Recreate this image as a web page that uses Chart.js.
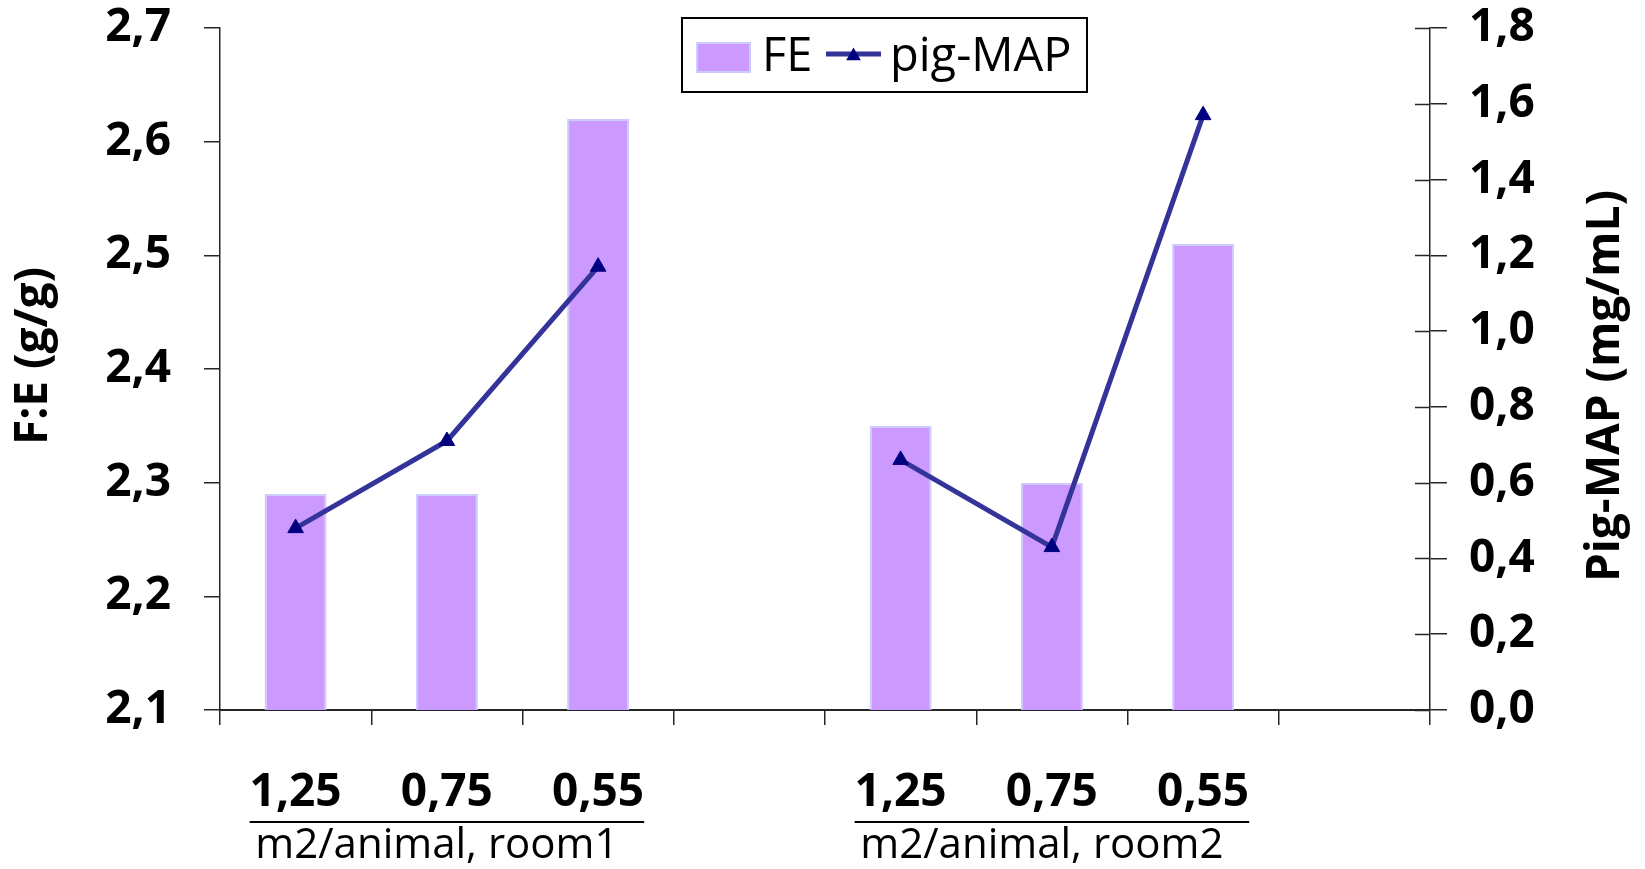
<!DOCTYPE html>
<html>
<head>
<meta charset="utf-8">
<script src="https://cdn.jsdelivr.net/npm/chart.js@4/dist/chart.umd.min.js"></script>
<style>
  html, body { margin: 0; padding: 0; background: #ffffff; }
  canvas { display: block; }
</style>
</head>
<body>
<canvas id="chart" width="1645" height="869"></canvas>
<script>
// Space allowance per animal, two rooms; empty slot after each room
const categories = ['1,25', '0,75', '0,55', '', '1,25', '0,75', '0,55', ''];
const feValues = [2.29, 2.29, 2.62, null, 2.35, 2.30, 2.51, null];
const pigMapValues = [0.48, 0.71, 1.17, null, 0.66, 0.43, 1.57, null];

const leftTickLabels = ['2,1', '2,2', '2,3', '2,4', '2,5', '2,6', '2,7'];
const rightTickLabels = ['0,0', '0,2', '0,4', '0,6', '0,8', '1,0', '1,2', '1,4', '1,6', '1,8'];

const groupLabels = ['m2/animal, room1', 'm2/animal, room2'];
const groupSpans = [[0, 2], [4, 6]];

const leftTitle = 'F:E (g/g)';
const rightTitle = 'Pig-MAP (mg/mL)';

const FONT = "'Open Sans', 'DejaVu Sans', sans-serif";
const AXIS = '#262626';
const BAR_FILL = '#CC99FF';
const BAR_EDGE = '#CCCCFF';
const LINE = '#333399';
const MARKER = '#000080';

function triangle(ctx, cx, cy, r) {
  ctx.beginPath();
  ctx.moveTo(cx, cy - r);
  ctx.lineTo(cx + r * Math.sqrt(3) / 2, cy + r / 2);
  ctx.lineTo(cx - r * Math.sqrt(3) / 2, cy + r / 2);
  ctx.closePath();
  ctx.fill();
}

// Extra drawing: inner right-axis ticks, group captions, axis titles, legend
const decor = {
  id: 'decor',
  afterDraw(chart) {
    const ctx = chart.ctx;
    const xs = chart.scales.x, yr = chart.scales.y1;
    ctx.save();

    // right axis ticks cross the axis line
    ctx.strokeStyle = AXIS;
    ctx.lineWidth = 1.5;
    yr.ticks.forEach((t, i) => {
      const py = Math.round(yr.getPixelForTick(i)) + 0.5;
      ctx.beginPath();
      ctx.moveTo(yr.left - 15, py);
      ctx.lineTo(yr.left, py);
      ctx.stroke();
    });

    // group underline + caption under the category labels
    groupSpans.forEach(([a, b], g) => {
      ctx.font = 'bold 46px ' + FONT;
      const wa = ctx.measureText(categories[a]).width;
      const wb = ctx.measureText(categories[b]).width;
      const x0 = xs.getPixelForTick(a) - wa / 2;
      const x1 = xs.getPixelForTick(b) + wb / 2;
      const uy = xs.top + 112;
      ctx.strokeStyle = '#000000';
      ctx.lineWidth = 2;
      ctx.beginPath();
      ctx.moveTo(x0, uy);
      ctx.lineTo(x1, uy);
      ctx.stroke();
      ctx.font = '42px ' + FONT;
      ctx.fillStyle = '#000000';
      ctx.textAlign = 'center';
      ctx.textBaseline = 'alphabetic';
      ctx.fillText(groupLabels[g], (x0 + x1) / 2 - 10, xs.top + 148);
    });

    // axis titles
    ctx.font = 'bold 46px ' + FONT;
    ctx.fillStyle = '#000000';
    ctx.textAlign = 'center';
    ctx.textBaseline = 'middle';
    ctx.save();
    ctx.translate(34, 356);
    ctx.rotate(-Math.PI / 2);
    ctx.fillText(leftTitle, 0, 0);
    ctx.restore();
    ctx.save();
    ctx.translate(1606, 386);
    ctx.rotate(-Math.PI / 2);
    ctx.fillText(rightTitle, 0, 0);
    ctx.restore();

    // legend
    const ds = chart.data.datasets;
    ctx.fillStyle = '#ffffff';
    ctx.fillRect(682, 18, 405, 74);
    ctx.strokeStyle = '#000000';
    ctx.lineWidth = 2;
    ctx.strokeRect(682, 18, 405, 74);

    ctx.fillStyle = BAR_EDGE;
    ctx.fillRect(696, 42, 55, 31);
    ctx.fillStyle = BAR_FILL;
    ctx.fillRect(698, 44, 51, 27);

    ctx.font = '47px ' + FONT;
    ctx.fillStyle = '#000000';
    ctx.textAlign = 'left';
    ctx.textBaseline = 'alphabetic';
    ctx.fillText(ds[1].label, 762, 71);

    ctx.strokeStyle = LINE;
    ctx.lineWidth = 5;
    ctx.beginPath();
    ctx.moveTo(826, 54);
    ctx.lineTo(881, 54);
    ctx.stroke();
    ctx.fillStyle = MARKER;
    triangle(ctx, 853.5, 56, 8.5);

    ctx.fillStyle = '#000000';
    ctx.fillText(ds[0].label, 890, 71);

    ctx.restore();
  }
};

function tickFmt(labels) {
  return (value, index) => labels[index];
}

// fixed axis band sizes; label overhang is handled by the layout padding
function fixWidth(w) {
  return s => { s.width = w; s.paddingTop = 0; s.paddingBottom = 0; };
}

function draw() {
  new Chart(document.getElementById('chart'), {
    type: 'bar',
    data: {
      labels: categories,
      datasets: [
        {
          type: 'line',
          label: 'pig-MAP',
          data: pigMapValues,
          yAxisID: 'y1',
          order: 0,
          borderColor: LINE,
          borderWidth: 5,
          tension: 0,
          spanGaps: false,
          fill: false,
          pointStyle: 'triangle',
          pointRadius: 9,
          pointBackgroundColor: MARKER,
          pointBorderColor: MARKER,
          pointBorderWidth: 1,
          clip: false
        },
        {
          type: 'bar',
          label: 'FE',
          data: feValues,
          yAxisID: 'y',
          order: 1,
          backgroundColor: BAR_FILL,
          borderColor: BAR_EDGE,
          borderWidth: 2,
          categoryPercentage: 1,
          barPercentage: 0.41
        }
      ]
    },
    options: {
      responsive: false,
      animation: false,
      devicePixelRatio: 1,
      layout: { padding: { top: 28, left: 0, right: 0, bottom: 0 } },
      plugins: { legend: { display: false }, tooltip: { enabled: false } },
      scales: {
        x: {
          type: 'category',
          offset: true,
          grid: { display: true, drawOnChartArea: false, offset: true, tickLength: 15, color: AXIS, lineWidth: 1.5 },
          border: { display: true, color: AXIS, width: 2 },
          ticks: { color: '#000000', font: { family: FONT, size: 46, weight: 'bold' }, padding: 40, maxRotation: 0, autoSkip: false },
          afterFit: s => { s.height = 159; s.paddingLeft = 0; s.paddingRight = 0; }
        },
        y: {
          position: 'left',
          min: 2.1,
          max: 2.7,
          grid: { display: true, drawOnChartArea: false, tickLength: 16, color: AXIS, lineWidth: 1.5 },
          border: { display: true, color: AXIS, width: 1.5 },
          ticks: { stepSize: 0.1, color: '#000000', font: { family: FONT, size: 46, weight: 'bold' }, padding: 33, callback: tickFmt(leftTickLabels) },
          afterFit: fixWidth(220)
        },
        y1: {
          position: 'right',
          min: 0,
          max: 1.8,
          grid: { display: true, drawOnChartArea: false, tickLength: 17, color: AXIS, lineWidth: 1.5 },
          border: { display: true, color: AXIS, width: 1.5 },
          ticks: { stepSize: 0.2, color: '#000000', font: { family: FONT, size: 46, weight: 'bold' }, padding: 22, callback: tickFmt(rightTickLabels) },
          afterFit: fixWidth(215)
        }
      }
    },
    plugins: [decor]
  });
}

if (document.fonts && document.fonts.load) {
  Promise.all([
    document.fonts.load("bold 46px 'Open Sans'"),
    document.fonts.load("42px 'Open Sans'")
  ]).then(draw, draw);
} else {
  draw();
}
</script>
</body>
</html>
